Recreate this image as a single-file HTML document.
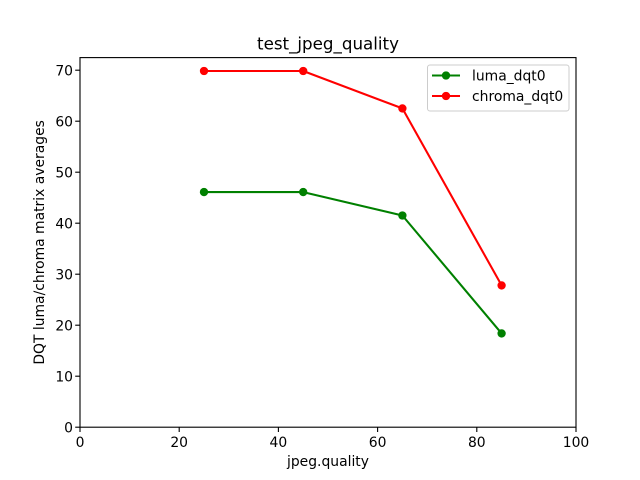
<!DOCTYPE html>
<html><head><meta charset="utf-8"><style>
html,body{margin:0;padding:0;background:#fff;}
svg{display:block;}
text{font-family:"DejaVu Sans","Liberation Sans",sans-serif;fill:#000;}
</style></head><body>
<svg width="640" height="480" viewBox="0 0 640 480" xmlns="http://www.w3.org/2000/svg">
<rect width="640" height="480" fill="#fff"/>
<!-- series -->
<polyline points="204,192.1 303.2,192.1 402.4,215.5 501.6,333.4" fill="none" stroke="#008000" stroke-width="2.08" stroke-linejoin="round"/>
<g fill="#008000"><circle cx="204" cy="192.1" r="4.17"/><circle cx="303.2" cy="192.1" r="4.17"/><circle cx="402.4" cy="215.5" r="4.17"/><circle cx="501.6" cy="333.4" r="4.17"/></g>
<polyline points="204,71.0 303.2,71.0 402.4,108.4 501.6,285.4" fill="none" stroke="#ff0000" stroke-width="2.08" stroke-linejoin="round"/>
<g fill="#ff0000"><circle cx="204" cy="71.0" r="4.17"/><circle cx="303.2" cy="71.0" r="4.17"/><circle cx="402.4" cy="108.4" r="4.17"/><circle cx="501.6" cy="285.4" r="4.17"/></g>
<!-- axes frame -->
<rect x="80" y="57.6" width="496" height="369.6" fill="none" stroke="#000" stroke-width="1.11"/>
<!-- ticks -->
<g stroke="#000" stroke-width="1.11">
<line x1="80" y1="427.2" x2="80" y2="432"/><line x1="179.2" y1="427.2" x2="179.2" y2="432"/><line x1="278.4" y1="427.2" x2="278.4" y2="432"/><line x1="377.6" y1="427.2" x2="377.6" y2="432"/><line x1="476.8" y1="427.2" x2="476.8" y2="432"/><line x1="576" y1="427.2" x2="576" y2="432"/>
<line x1="75.2" y1="427.2" x2="80" y2="427.2"/><line x1="75.2" y1="376.2" x2="80" y2="376.2"/><line x1="75.2" y1="325.2" x2="80" y2="325.2"/><line x1="75.2" y1="274.2" x2="80" y2="274.2"/><line x1="75.2" y1="223.2" x2="80" y2="223.2"/><line x1="75.2" y1="172.2" x2="80" y2="172.2"/><line x1="75.2" y1="121.2" x2="80" y2="121.2"/><line x1="75.2" y1="70.2" x2="80" y2="70.2"/>
</g>
<g font-size="13.9" text-anchor="middle">
<text x="80" y="447">0</text><text x="179.2" y="447">20</text><text x="278.4" y="447">40</text><text x="377.6" y="447">60</text><text x="476.8" y="447">80</text><text x="576" y="447">100</text>
</g>
<g font-size="13.9" text-anchor="end">
<text x="73" y="432.5">0</text><text x="73" y="381.5">10</text><text x="73" y="330.5">20</text><text x="73" y="279.5">30</text><text x="73" y="228.5">40</text><text x="73" y="177.5">50</text><text x="73" y="126.5">60</text><text x="73" y="75.5">70</text>
</g>
<text x="328" y="466" font-size="13.9" text-anchor="middle">jpeg.quality</text>
<text transform="translate(44,242.4) rotate(-90)" font-size="13.9" text-anchor="middle">DQT luma/chroma matrix averages</text>
<text x="328" y="49.3" font-size="16.7" text-anchor="middle">test_jpeg_quality</text>
<!-- legend -->
<rect x="427.5" y="65" width="141.5" height="46" rx="2.5" fill="#fff" fill-opacity="0.8" stroke="#ccc" stroke-width="1"/>
<line x1="432" y1="75.5" x2="460" y2="75.5" stroke="#008000" stroke-width="2.08"/>
<circle cx="446" cy="75.5" r="4.17" fill="#008000"/>
<text x="472" y="80.5" font-size="13.9">luma_dqt0</text>
<line x1="432" y1="96" x2="460" y2="96" stroke="#ff0000" stroke-width="2.08"/>
<circle cx="446" cy="96" r="4.17" fill="#ff0000"/>
<text x="472" y="101" font-size="13.9">chroma_dqt0</text>
</svg>
</body></html>
